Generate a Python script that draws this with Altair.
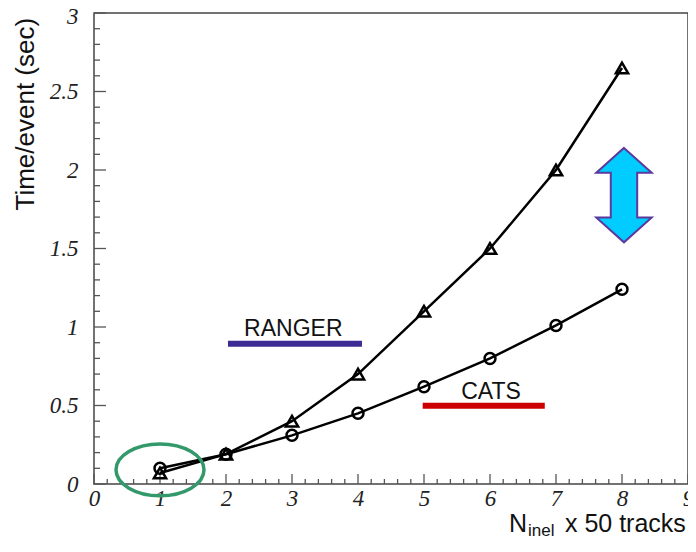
import altair as alt
import pandas as pd

# ---------------- data ----------------
n_inel = [1, 2, 3, 4, 5, 6, 7, 8]
ranger_time = [0.07, 0.19, 0.40, 0.70, 1.10, 1.50, 2.00, 2.65]
cats_time = [0.10, 0.19, 0.31, 0.45, 0.62, 0.80, 1.01, 1.24]

x_major_ticks = [0, 1, 2, 3, 4, 5, 6, 7, 8, 9]
y_major_ticks = [0, 0.5, 1, 1.5, 2, 2.5, 3]
x_minor_ticks = [i / 5 for i in range(46) if i % 5]
y_minor_ticks = [i / 10 for i in range(31) if i % 5]

legend_names = ["RANGER", "CATS"]
legend_colors = ["#3d2b94", "#cc0000"]
legend_x_start = [2.03, 4.98]
legend_x_end = [4.06, 6.83]
legend_line_y = [0.894, 0.498]
legend_text_x = [3.02, 6.015]
legend_text_y = [0.943, 0.541]

arrow_x = [8.03]
arrow_y = [1.84]
ellipse_x = [1.0]
ellipse_y = [0.09]

xtitle_parts = ["N", "inel", "x 50 tracks"]
xtitle_x = [6.288, 6.576, 7.136]
xtitle_y = [-0.306, -0.331, -0.306]

# ---------------- scales / axes ----------------
xs = alt.Scale(domain=[0, 9], nice=False, zero=False)
ys = alt.Scale(domain=[0, 3], nice=False, zero=False)

label_style = dict(labelFont="Liberation Serif", labelFontStyle="italic",
                   labelFontSize=23, labelColor="#222", labelFlush=False,
                   labelOverlap=False, labelExpr="datum.value + ''",
                   ticks=False, tickSize=0, domain=False, grid=False)

xax = alt.Axis(values=x_major_ticks, title=None, labelPadding=3, **label_style)
yax = alt.Axis(values=y_major_ticks, title="Time/event (sec)",
               titleFont="Liberation Sans", titleFontSize=26,
               titleFontWeight="normal", titleColor="#111",
               titleAngle=270, titleAlign="left", titleBaseline="alphabetic",
               titleX=-61, titleY=197, labelPadding=16,
               labelOffset=alt.condition("datum.value == 3", alt.value(3), alt.value(0)),
               **label_style)

X = lambda f: alt.X(f, scale=xs, axis=xax)
Y = lambda f: alt.Y(f, scale=ys, axis=yax)

df = pd.DataFrame({"n": n_inel, "ranger": ranger_time, "cats": cats_time})
base = alt.Chart(df)

line_r = base.mark_line(color="black", strokeWidth=2.5).encode(x=X("n:Q"), y=Y("ranger:Q"))
line_c = base.mark_line(color="black", strokeWidth=2.5).encode(x=X("n:Q"), y=Y("cats:Q"))
pts_r = base.mark_point(shape="triangle-up", filled=False, size=150, strokeWidth=2.5,
                        color="black", opacity=1).encode(x=X("n:Q"), y=Y("ranger:Q"))
pts_c = base.mark_point(shape="circle", filled=False, size=120, strokeWidth=2.5,
                        color="black", opacity=1).encode(x=X("n:Q"), y=Y("cats:Q"))

# ---------------- inward ticks ----------------
def yticks(vals, length):
    return alt.Chart(pd.DataFrame({"v": vals})).mark_tick(
        orient="horizontal", size=length, thickness=1.3, xOffset=length / 2,
        color="#555", opacity=1).encode(
        x=alt.X(datum=0, scale=xs, axis=xax), y=Y("v:Q"))

def xticks(vals, length):
    return alt.Chart(pd.DataFrame({"v": vals})).mark_tick(
        orient="vertical", size=length, thickness=1.3, yOffset=-length / 2,
        color="#555", opacity=1).encode(
        x=X("v:Q"), y=alt.Y(datum=0, scale=ys, axis=yax))

# ---------------- annotations ----------------
leg = pd.DataFrame({"name": legend_names, "color": legend_colors,
                    "x1": legend_x_start, "x2": legend_x_end, "y": legend_line_y,
                    "tx": legend_text_x, "ty": legend_text_y})
leg_lines = alt.Chart(leg).mark_rule(strokeWidth=6).encode(
    x=X("x1:Q"), x2="x2:Q", y=Y("y:Q"),
    color=alt.Color("color:N", scale=None))
leg_text = alt.Chart(leg).mark_text(font="Liberation Sans", fontSize=23,
                                    align="center", baseline="alphabetic",
                                    color="#111").encode(
    x=X("tx:Q"), y=Y("ty:Q"), text="name:N")

arrow_path = ("M0,-1L0.587,-0.475L0.28,-0.475L0.28,0.475L0.587,0.475L0,1"
              "L-0.587,0.475L-0.28,0.475L-0.28,-0.475L-0.587,-0.475Z")
arrow = alt.Chart(pd.DataFrame({"x": arrow_x, "y": arrow_y})).mark_point(
    shape=arrow_path, size=8911, filled=True, fill="#00ccff", stroke="#5b3a9e",
    strokeWidth=2, opacity=1, fillOpacity=1, strokeOpacity=1).encode(
    x=X("x:Q"), y=Y("y:Q"))

ellipse_path = "M-1,0A1,0.59 0 1,1 1,0A1,0.59 0 1,1 -1,0Z"
ellipse = alt.Chart(pd.DataFrame({"x": ellipse_x, "y": ellipse_y})).mark_point(
    shape=ellipse_path, size=7744, filled=False, stroke="#33996b",
    strokeWidth=3.5, opacity=1).encode(x=X("x:Q"), y=Y("y:Q"))

xt = pd.DataFrame({"t": xtitle_parts, "x": xtitle_x, "y": xtitle_y})
xt_main = alt.Chart(xt).transform_filter("datum.t != 'inel'").mark_text(
    font="Liberation Sans", fontSize=25, align="left", baseline="alphabetic",
    color="#111").encode(x=X("x:Q"), y=Y("y:Q"), text="t:N")
xt_sub = alt.Chart(xt).transform_filter("datum.t == 'inel'").mark_text(
    font="Liberation Sans", fontSize=17, align="left", baseline="alphabetic",
    color="#111").encode(x=X("x:Q"), y=Y("y:Q"), text="t:N")

chart = alt.layer(
    yticks(y_major_ticks, 12), yticks(y_minor_ticks, 6),
    xticks(x_major_ticks, 10), xticks(x_minor_ticks, 5),
    leg_lines, leg_text, arrow,
    line_r, line_c, pts_r, pts_c, ellipse,
    xt_main, xt_sub,
).properties(
    width=594, height=471,
    autosize=alt.AutoSizeParams(type="none"),
    padding={"left": 86, "top": 5, "right": 0, "bottom": 56},
).configure_view(stroke="#444", strokeWidth=1.5)

chart.save("out.html", embed_options={"renderer": "svg", "actions": False})
